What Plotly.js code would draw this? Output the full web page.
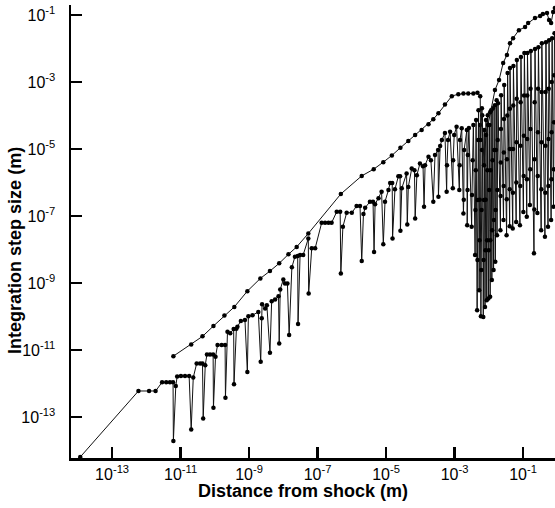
<!DOCTYPE html>
<html>
<head>
<meta charset="utf-8">
<script src="https://cdn.plot.ly/plotly-3.0.1.min.js"></script>
<style>html,body{margin:0;padding:0;background:#fff;}#chart{width:555px;height:508px;}</style>
</head>
<body>
<div id="chart"></div>
<script>
// Upper (smooth) series: log10 of distance from shock and log10 of step size
const smoothLogDist = [-11.21,-10.69,-10.36,-10.04,-9.72,-9.43,-9.05,-8.67,-8.39,-8.12,-7.85,-7.61,-7.27,-6.32,-5.71,-5.36,-5.08,-4.83,-4.58,-4.35,-4.15,-3.96,-3.76,-3.62,-3.47,-3.28,-3.08,-2.89,-2.74,-2.60,-2.45,-2.33,-2.25,-2.24,-2.20,-2.14,-2.08,-2.02,-1.96,-1.82,-1.70,-1.58,-1.47,-1.38,-1.29,-1.12,-0.94,-0.85,-0.65,-0.50,-0.42,-0.30,-0.24,-0.18,-0.12,-0.07];
const smoothLogStep = [-11.18,-10.83,-10.59,-10.28,-9.97,-9.71,-9.24,-8.86,-8.64,-8.41,-8.14,-7.92,-7.52,-6.34,-5.80,-5.60,-5.39,-5.19,-4.96,-4.76,-4.58,-4.43,-4.26,-4.11,-3.93,-3.67,-3.42,-3.36,-3.34,-3.34,-3.34,-3.32,-3.42,-4.73,-3.78,-5.48,-4.58,-4.28,-3.90,-3.24,-2.94,-2.43,-2.19,-1.84,-1.69,-1.45,-1.36,-1.24,-1.09,-1.03,-0.97,-0.94,-1.15,-1.24,-0.91,-0.79];

// Sawtooth series: log10 of distance from shock and log10 of step size
const sawLogDist = [
-13.93,-12.23,-11.92,-11.73,-11.54,-11.42,-11.31,-11.22,-11.21,-11.14,-11.10,-10.99,-10.87,-10.75,-10.69,-10.63,-10.53,-10.43,-10.36,-10.34,
-10.28,-10.23,-10.14,-10.05,-10.04,-9.98,-9.92,-9.80,-9.70,-9.69,-9.63,-9.55,-9.45,-9.44,-9.37,-9.34,-9.24,-9.12,-9.05,-9.02,
-8.90,-8.73,-8.66,-8.63,-8.62,-8.53,-8.48,-8.39,-8.34,-8.24,-8.14,-8.12,-8.09,-8.00,-7.95,-7.88,-7.83,-7.75,-7.66,-7.58,
-7.57,-7.51,-7.42,-7.27,-7.26,-7.17,-7.07,-6.88,-6.78,-6.68,-6.59,-6.44,-6.34,-6.32,-6.26,-6.15,-6.00,-5.86,-5.76,-5.71,
-5.66,-5.61,-5.47,-5.38,-5.35,-5.32,-5.22,-5.13,-5.08,-5.03,-4.93,-4.88,-4.82,-4.81,-4.74,-4.64,-4.59,-4.58,-4.54,-4.40,
-4.38,-4.35,-4.25,-4.17,-4.15,-4.10,-4.01,-3.92,-3.89,-3.86,-3.76,-3.69,-3.62,-3.57,-3.48,-3.47,-3.42,-3.37,-3.28,-3.23,
-3.22,-3.19,-3.13,-3.05,-3.04,-3.01,-2.94,-2.86,-2.85,-2.84,-2.79,-2.74,-2.73,-2.72,-2.64,-2.63,-2.62,-2.61,-2.58,-2.50,
-2.49,-2.47,-2.45,-2.40,-2.39,-2.38,-2.37,-2.34,-2.33,-2.32,-2.31,-2.30,-2.28,-2.27,-2.265,-2.255,-2.23,-2.22,-2.21,-2.20,
-2.19,-2.16,-2.15,-2.14,-2.13,-2.11,-2.10,-2.09,-2.08,-2.06,-2.05,-2.04,-2.03,-2.01,-2.00,-1.99,-1.98,-1.96,-1.955,-1.945,
-1.93,-1.91,-1.90,-1.89,-1.88,-1.86,-1.85,-1.84,-1.82,-1.81,-1.80,-1.79,-1.77,-1.76,-1.75,-1.74,-1.73,
-1.66,-1.655,-1.65,-1.645,-1.64,
-1.57,-1.565,-1.56,-1.555,-1.55,
-1.48,-1.475,-1.47,-1.46,-1.45,
-1.39,-1.387,-1.385,-1.383,-1.38,
-1.30,-1.295,-1.29,-1.285,-1.28,
-1.20,-1.195,-1.19,-1.185,-1.18,
-1.09,-1.08,-1.075,-1.07,-1.06,
-0.99,-0.98,-0.975,-0.97,-0.96,
-0.89,-0.885,-0.88,-0.875,-0.87,
-0.80,-0.79,-0.785,-0.78,-0.77,
-0.68,-0.67,-0.665,-0.66,-0.65,
-0.58,-0.57,-0.565,-0.56,-0.55,
-0.47,-0.465,-0.46,-0.455,-0.45,
-0.36,-0.35,-0.345,-0.34,-0.33,
-0.27,-0.26,-0.255,-0.25,-0.24,
-0.18,-0.17,-0.165,-0.16,-0.15,
-0.11,-0.10,-0.095,-0.09,-0.08
];
const sawLogStep = [
-14.19,-12.22,-12.22,-12.22,-11.96,-11.96,-11.96,-11.96,-13.71,-12.07,-11.79,-11.77,-11.77,-11.77,-13.37,-11.82,-11.40,-11.40,-11.40,-13.04,
-11.45,-11.13,-11.13,-11.13,-12.72,-11.20,-10.85,-10.85,-10.85,-12.42,-10.45,-10.50,-10.37,-12.02,-10.36,-10.30,-10.13,-10.10,-11.65,-9.99,
-9.96,-9.86,-11.35,-10.05,-9.63,-9.76,-9.66,-11.08,-9.54,-9.49,-9.39,-10.80,-9.19,-8.89,-9.01,-9.01,-10.55,-8.53,-8.21,-8.19,
-10.22,-8.16,-8.16,-7.67,-9.31,-7.96,-7.96,-7.20,-7.20,-7.20,-7.20,-6.87,-6.87,-8.71,-7.32,-6.90,-6.90,-6.70,-6.70,-8.34,
-6.94,-6.75,-6.57,-6.57,-8.07,-6.65,-6.47,-6.27,-7.84,-6.57,-6.22,-6.01,-6.01,-7.67,-6.20,-5.81,-5.81,-7.44,-6.17,-5.73,
-7.25,-6.13,-5.58,-5.63,-7.07,-5.78,-5.43,-5.51,-6.72,-5.48,-5.23,-5.33,-6.57,-5.18,-5.03,-6.42,-4.91,-4.73,-4.52,-6.27,
-5.48,-4.73,-4.48,-6.17,-5.33,-4.58,-4.33,-6.22,-5.48,-4.73,-4.38,-6.92,-6.51,-5.03,-4.43,-7.27,-6.22,-5.18,-4.37,-7.32,
-6.37,-5.33,-4.28,-8.16,-6.82,-5.63,-4.13,-9.81,-8.31,-6.52,-4.73,-3.84,-9.21,-7.72,-6.51,-4.28,-9.99,-8.61,-6.82,-5.03,
-3.99,-10.01,-8.31,-6.52,-4.43,-9.71,-8.02,-6.51,-4.13,-9.51,-7.72,-5.63,-3.99,-9.46,-8.02,-6.22,-4.28,-9.41,-7.72,-5.63,
-3.84,-8.91,-7.42,-5.33,-3.78,-8.61,-7.12,-5.03,-3.69,-8.36,-6.82,-5.03,-3.54,-7.57,-6.22,-4.73,-3.63,
-7.42,-6.40,-5.40,-4.40,-3.39,
-7.12,-6.10,-5.10,-4.10,-3.09,
-7.57,-6.50,-5.30,-4.00,-2.73,
-7.30,-6.20,-5.00,-3.80,-2.58,
-7.37,-6.30,-5.00,-3.70,-2.52,
-7.18,-6.00,-4.80,-3.50,-2.34,
-7.27,-6.10,-4.90,-3.60,-2.25,
-6.88,-5.80,-4.60,-3.40,-2.13,
-7.02,-5.90,-4.70,-3.40,-2.13,
-6.67,-5.60,-4.40,-3.20,-2.07,
-8.11,-6.80,-5.30,-3.60,-2.01,
-6.91,-5.80,-4.50,-3.20,-1.96,
-7.42,-6.20,-4.80,-3.30,-1.84,
-7.62,-6.30,-4.90,-3.30,-1.81,
-7.32,-6.10,-4.70,-3.20,-1.75,
-7.12,-5.90,-4.50,-3.00,-1.69,
-6.72,-5.60,-4.20,-2.80,-1.54
];

const tickExps = [-13,-11,-9,-7,-5,-3,-1];
const tickLabels = ["10<sup>-13</sup>","10<sup>-11</sup>","10<sup>-9</sup>","10<sup>-7</sup>","10<sup>-5</sup>","10<sup>-3</sup>","10<sup>-1</sup>"];

const toVal = a => a.map(v => Math.pow(10, v));
const tickVals = toVal(tickExps);

const FONT = "Liberation Sans, Arial, Helvetica, sans-serif";

const traces = [
  {x: toVal(sawLogDist), y: toVal(sawLogStep), type: 'scatter', mode: 'lines+markers',
   line: {color: '#111', width: 1}, marker: {color: '#000', size: 4.5}, showlegend: false, name: 'step'},
  {x: toVal(smoothLogDist), y: toVal(smoothLogStep), type: 'scatter', mode: 'lines+markers',
   line: {color: '#111', width: 1}, marker: {color: '#000', size: 4.5}, showlegend: false, name: 'upper'}
];

const axisCommon = {
  type: 'log', showgrid: false, zeroline: false, showline: true, linecolor: '#000', linewidth: 2.5,
  ticks: 'inside', ticklen: 11, tickwidth: 2.5, tickcolor: '#000', mirror: false,
  tickmode: 'array', tickvals: tickVals, ticktext: tickLabels,
  tickfont: {family: FONT, size: 16, color: '#000'}
};

const layout = {
  width: 555, height: 508,
  margin: {l: 71, r: 0, t: 5, b: 50},
  paper_bgcolor: '#fff', plot_bgcolor: '#fff',
  font: {family: FONT, color: '#000'},
  showlegend: false,
  xaxis: Object.assign({}, axisCommon, {range: [-14.20, -0.066], ticklabelstandoff: 0}),
  yaxis: Object.assign({}, axisCommon, {range: [-14.22, -0.70], ticklabelstandoff: 10}),
  annotations: [
    {text: 'Distance from shock (m)', xref: 'paper', yref: 'paper', x: 0.479, y: -0.073,
     xanchor: 'center', yanchor: 'middle', showarrow: false,
     font: {family: FONT, size: 18, color: '#000', weight: 'bold'}},
    {text: 'Integration step size (m)', xref: 'paper', yref: 'paper', x: -0.117, y: 0.458,
     xanchor: 'center', yanchor: 'middle', textangle: -90, showarrow: false,
     font: {family: FONT, size: 18, color: '#000', weight: 'bold'}}
  ]
};

Plotly.newPlot('chart', traces, layout, {staticPlot: true, displayModeBar: false});
</script>
</body>
</html>
